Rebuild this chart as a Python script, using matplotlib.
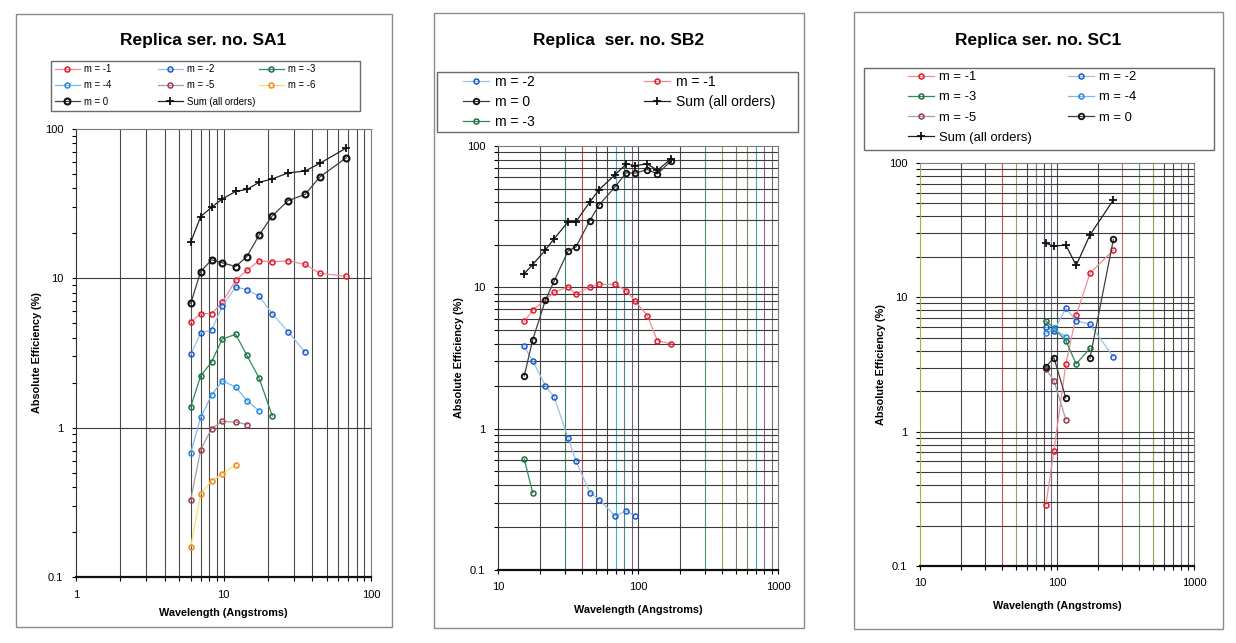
import numpy as np
import matplotlib
matplotlib.use('Agg')
import matplotlib.pyplot as plt
from matplotlib.legend import Legend
from matplotlib.patches import Rectangle

plt.rcParams['font.family'] = ['Liberation Sans', 'DejaVu Sans']

W, H = 1236, 643

# ---------------- data ----------------
# SA1
sa1_wl = [6.0, 7.0, 8.3, 9.8, 12.1, 14.4, 17.4, 21.4, 27.4, 35.7, 45.0, 68.0]
sa1_m1 = [5.1, 5.8, 5.8, 6.9, 9.7, 11.3, 13.1, 12.9, 13.1, 12.4, 10.8, 10.3]
sa1_m2 = [3.1, 4.3, 4.5, 6.5, 8.75, 8.4, 7.6, 5.8, 4.4, 3.2]
sa1_m3 = [1.38, 2.22, 2.75, 3.92, 4.22, 3.05, 2.16, 1.2]
sa1_m4 = [0.68, 1.17, 1.65, 2.06, 1.87, 1.52, 1.3]
sa1_m5 = [0.33, 0.71, 0.985, 1.10, 1.09, 1.05]
sa1_m6 = [0.16, 0.36, 0.44, 0.49, 0.565]
sa1_m0 = [6.8, 11.1, 13.3, 12.7, 12.0, 14.0, 19.4, 26.2, 33.1, 36.5, 47.7, 64.3]
sa1_sum = [17.5, 25.9, 29.9, 34.0, 38.2, 39.4, 43.9, 46.3, 50.8, 52.3, 58.9, 74.6]

# SB2
sb2_wl = [15.4, 17.7, 21.8, 25.2, 31.7, 36.0, 45.3, 52.8, 68.8, 82.5, 94.6, 116.7, 137.5, 173.2]
sb2_m2 = [3.82, 3.02, 2.02, 1.67, 0.854, 0.593, 0.352, 0.315, 0.241, 0.262, 0.241]
sb2_m1 = [5.74, 6.87, 8.2, 9.22, 10.1, 8.93, 10.1, 10.5, 10.5, 9.47, 8.05, 6.3, 4.19, 3.98]
sb2_m0 = [2.36, 4.26, 8.1, 11.1, 18.1, 19.3, 29.7, 38.3, 51.6, 64.8, 64.2, 68.1, 63.5, 78.8]
sb2_sum = [12.5, 14.5, 18.4, 22.1, 29.1, 29.1, 40.2, 49.2, 62.8, 74.6, 72.7, 74.6, 67.3, 81.4]
sb2_m3 = [0.61, 0.352]

# SC1
sc1_wl = [83, 95, 116, 138, 174, 258]
sc1_m1 = [0.286, 0.722, 3.17, 7.35, 15.1, 22.5]
sc1_m2 = [6.0, 5.6, 8.3, 6.7, 6.3, 3.6]
sc1_m3 = [6.67, 5.87, 4.76, 3.19, 4.17]
sc1_m4 = [5.4, 5.8, 5.09]
sc1_m5 = [2.91, 2.40, 1.23]
sc1_m0 = [3.04, 3.56, 1.78, np.nan, 3.52, 27.0]
sc1_sum = [25.2, 24.1, 24.5, 17.3, 29.1, 53.1]

# ---------------- styles ----------------
STY = {
    'm = -1': dict(color='#f08a94', mec='#e01c2c'),
    'm = -2': dict(color='#9cc0e4', mec='#1c5cd0'),
    'm = -3': dict(color='#2e8a5c', mec='#1e7040'),
    'm = -4': dict(color='#78b8ec', mec='#2488e0'),
    'm = -5': dict(color='#a0a0a0', mec='#a03a4c'),
    'm = -6': dict(color='#f4e070', mec='#f48a1c'),
    'm = 0': dict(color='#404040', mec='#101010'),
}

fig = plt.figure(figsize=(W / 100, H / 100), dpi=100)
fig.patch.set_facecolor('white')


def frac_rect(x0, y0, x1, y1):
    return [x0 / W, 1 - y1 / H, (x1 - x0) / W, (y1 - y0) / H]


def box(x0, y0, x1, y1, color='#8a8a8a', lw=1.0):
    r = Rectangle((x0 / W, 1 - y1 / H), (x1 - x0) / W, (y1 - y0) / H,
                  transform=fig.transFigure, fill=False, edgecolor=color, lw=lw)
    fig.add_artist(r)


def series(ax, x, y, name, ms=3.6, mew=1.1, lw=0.9):
    s = STY[name]
    n = len(y)
    ln, = ax.plot(x[:n], y, '-', color=s['color'], lw=lw, marker='o', ms=ms,
                  mfc='none', mec=s['mec'], mew=mew, label=name, zorder=3)
    return ln


def sum_series(ax, x, y, ms=5.5):
    ln, = ax.plot(x[:len(y)], y, '-', color='#202020', lw=0.9, marker='+', ms=ms,
                  mew=1.3, mec='#101010', label='Sum (all orders)', zorder=4)
    return ln


def setup_axes(ax, xmin, xmax, minor_h, vcolors, fs_tick=8):
    ax.set_xscale('log')
    ax.set_yscale('log')
    ax.set_xlim(xmin, xmax)
    ax.set_ylim(0.1, 100)
    ax.set_yticks([0.1, 1, 10, 100])
    ax.set_yticklabels(['0.1', '1', '10', '100'])
    decs = [xmin * 10 ** i for i in range(int(round(np.log10(xmax / xmin))) + 1)]
    ax.set_xticks(decs)
    ax.set_xticklabels(['%g' % d for d in decs])
    ax.tick_params(which='both', direction='out', length=3, width=0.8, labelsize=fs_tick, pad=6)
    ax.tick_params(which='minor', labelbottom=False, labelleft=False)
    # vertical grid (some scan lines come out tinted)
    for d in decs[:-1]:
        for m in range(1, 10):
            v = d * m
            if v <= xmin or v >= xmax:
                continue
            c = vcolors.get(round(v), '#4a4a4a') if vcolors else '#4a4a4a'
            ax.axvline(v, color=c, lw=0.8, zorder=1)
    # horizontal grid
    for d in [0.1, 1, 10]:
        for m in range(1, 10):
            v = d * m
            if v <= 0.1 or v >= 100:
                continue
            if m == 1 or minor_h:
                ax.axhline(v, color='#3a3a3a', lw=0.8, zorder=1)
    for sp in ['top', 'right']:
        ax.spines[sp].set_color('#7a7a7a')
        ax.spines[sp].set_linewidth(0.8)
    ax.spines['left'].set_color('#303030')
    ax.spines['bottom'].set_color('#101010')
    ax.spines['bottom'].set_linewidth(1.6)
    ax.set_facecolor('none')


def put_legend(ax, handles, x, ytop, fs, hl, spacing):
    leg = Legend(ax, handles, [h.get_label() for h in handles], loc='upper left',
                 bbox_to_anchor=(x / W, 1 - ytop / H), bbox_transform=fig.transFigure,
                 frameon=False, fontsize=fs, handlelength=hl, labelspacing=spacing,
                 borderpad=0, borderaxespad=0, handletextpad=0.4, numpoints=1)
    ax.add_artist(leg)


# ================= Panel 1: SA1 =================
box(16, 14, 392, 627)
ax1 = fig.add_axes(frac_rect(76, 129, 371, 577))
setup_axes(ax1, 1, 100, False, None)
h = {}
for name, y in [('m = -1', sa1_m1), ('m = -2', sa1_m2), ('m = -3', sa1_m3),
                ('m = -4', sa1_m4), ('m = -5', sa1_m5), ('m = -6', sa1_m6)]:
    h[name] = series(ax1, sa1_wl, y, name)
h['m = 0'] = series(ax1, sa1_wl, sa1_m0, 'm = 0', ms=4.3, mew=1.5)
h['sum'] = sum_series(ax1, sa1_wl, sa1_sum)
fig.text(203 / W, 1 - 40 / H, 'Replica ser. no. SA1', ha='center', va='center',
         fontsize=12.5, fontweight='bold')
ax1.set_xlabel('Wavelength (Angstroms)', fontsize=7.8, fontweight='bold', labelpad=6)
ax1.set_ylabel('Absolute Efficiency (%)', fontsize=7.8, fontweight='bold', labelpad=2)
box(51, 61, 360, 111, color='#6a6a6a')
put_legend(ax1, [h['m = -1'], h['m = -4'], h['m = 0']], 55, 64, 6.9, 2.6, 0.66)
put_legend(ax1, [h['m = -2'], h['m = -5'], h['sum']], 158, 64, 6.9, 2.6, 0.66)
put_legend(ax1, [h['m = -3'], h['m = -6']], 259, 64, 6.9, 2.6, 0.66)

# ================= Panel 2: SB2 =================
box(434, 13, 804, 628)
ax2 = fig.add_axes(frac_rect(498, 146, 778, 570))
vc2 = {30: '#3f8a5c', 40: '#c84848', 70: '#38b4c4', 80: '#4a8a8a', 90: '#7a5a8a',
       300: '#4a9a6a', 400: '#a0a050', 500: '#8a7a6a', 600: '#7a8a6a', 700: '#40a8a8',
       800: '#8a6a9a', 900: '#707070'}
setup_axes(ax2, 10, 1000, True, vc2)
g = {}
g['m = -2'] = series(ax2, sb2_wl, sb2_m2, 'm = -2')
g['m = -1'] = series(ax2, sb2_wl, sb2_m1, 'm = -1')
g['m = 0'] = series(ax2, sb2_wl, sb2_m0, 'm = 0', ms=4.0, mew=1.3)
g['sum'] = sum_series(ax2, sb2_wl, sb2_sum)
g['m = -3'] = series(ax2, sb2_wl, sb2_m3, 'm = -3')
fig.text(619 / W, 1 - 41 / H, 'Replica  ser. no. SB2', ha='center', va='center',
         fontsize=12.5, fontweight='bold')
ax2.set_xlabel('Wavelength (Angstroms)', fontsize=7.8, fontweight='bold', labelpad=9)
ax2.set_ylabel('Absolute Efficiency (%)', fontsize=7.8, fontweight='bold', labelpad=2)
box(437, 72, 798, 132, color='#6a6a6a')
put_legend(ax2, [g['m = -2'], g['m = 0'], g['m = -3']], 463, 75, 10, 1.9, 0.42)
put_legend(ax2, [g['m = -1'], g['sum']], 644, 75, 10, 1.9, 0.42)

# ================= Panel 3: SC1 =================
box(854, 12, 1223, 629)
ax3 = fig.add_axes(frac_rect(920, 163, 1194, 566))
vc3 = {40: '#d05050', 50: '#a0a050', 70: '#6a8a6a', 90: '#6a6a8a',
       300: '#c07070', 400: '#6a9a6a', 500: '#90a04a', 800: '#8a7a9a'}
setup_axes(ax3, 10, 1000, True, vc3)
ax3.spines['left'].set_color('#a0b040')
k = {}
k['m = -1'] = series(ax3, sc1_wl, sc1_m1, 'm = -1')
k['m = -2'] = series(ax3, sc1_wl, sc1_m2, 'm = -2')
k['m = -3'] = series(ax3, sc1_wl, sc1_m3, 'm = -3')
k['m = -4'] = series(ax3, sc1_wl, sc1_m4, 'm = -4')
k['m = -5'] = series(ax3, sc1_wl, sc1_m5, 'm = -5')
k['m = 0'] = series(ax3, sc1_wl, sc1_m0, 'm = 0', ms=4.0, mew=1.3)
k['sum'] = sum_series(ax3, sc1_wl, sc1_sum)
fig.text(1038 / W, 1 - 40 / H, 'Replica ser. no. SC1', ha='center', va='center',
         fontsize=12.5, fontweight='bold')
ax3.set_xlabel('Wavelength (Angstroms)', fontsize=7.8, fontweight='bold', labelpad=9)
ax3.set_ylabel('Absolute Efficiency (%)', fontsize=7.8, fontweight='bold', labelpad=2)
box(864, 68, 1214, 150, color='#6a6a6a')
put_legend(ax3, [k['m = -1'], k['m = -3'], k['m = -5'], k['sum']], 908, 71, 9.4, 2.0, 0.62)
put_legend(ax3, [k['m = -2'], k['m = -4'], k['m = 0']], 1068, 71, 9.4, 2.0, 0.62)

fig.savefig('out.png', dpi=100, facecolor='white')
